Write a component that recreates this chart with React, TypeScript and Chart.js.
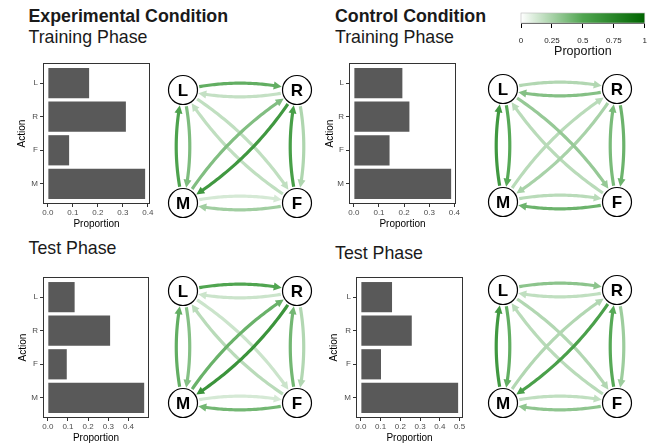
import React, { useEffect, useRef } from 'react';
import { Chart, registerables } from 'chart.js';

Chart.register(...registerables);

// ---------- data ----------
const ACTIONS = ['L', 'R', 'F', 'M'];

const expTrainProps = [0.165, 0.312, 0.085, 0.389];
const ctlTrainProps = [0.193, 0.221, 0.142, 0.387];
const expTestProps = [0.133, 0.309, 0.094, 0.478];
const ctlTestProps = [0.158, 0.258, 0.102, 0.493];

const ticksTo04 = [0, 0.1, 0.2, 0.3, 0.4];
const ticksTo05 = [0, 0.1, 0.2, 0.3, 0.4, 0.5];

const NODE_LABELS = ['L', 'R', 'M', 'F'];
const NODE_X = [0, 1, 0, 1];
const NODE_Y = [1, 1, 0, 0];

const EDGE_FROM = ['L', 'R', 'M', 'L', 'R', 'F', 'M', 'F', 'L', 'F', 'R', 'M'];
const EDGE_TO = ['R', 'L', 'L', 'M', 'F', 'R', 'F', 'M', 'F', 'L', 'M', 'R'];

const expTrainEdges = [0.45, 0.17, 0.52, 0.37, 0.23, 0.55, 0.12, 0.27, 0.18, 0.18, 0.6, 0.36];
const ctlTrainEdges = [0.22, 0.35, 0.6, 0.48, 0.42, 0.38, 0.2, 0.42, 0.3, 0.2, 0.25, 0.2];
const expTestEdges = [0.5, 0.15, 0.45, 0.35, 0.22, 0.4, 0.12, 0.4, 0.15, 0.2, 0.63, 0.43];
const ctlTestEdges = [0.33, 0.18, 0.6, 0.45, 0.28, 0.48, 0.18, 0.32, 0.22, 0.2, 0.54, 0.22];

const LEGEND_TICKS = [0, 0.25, 0.5, 0.75, 1];

// ---------- styling helpers ----------
const FONT = '"Liberation Sans", Arial, Helvetica, sans-serif';
const C0 = [255, 255, 255];
const C1 = [80, 165, 80];
const C2 = [0, 100, 0];
function colorScale(t: number) {
  const [a, b, u] = t <= 0.5 ? [C0, C1, t / 0.5] : [C1, C2, (t - 0.5) / 0.5];
  const c = a.map((l, i) => Math.round(l + (b[i] - l) * u));
  return `rgb(${c[0]},${c[1]},${c[2]})`;
}

function ChartCanvas({ left, top, width, height, makeConfig }: any) {
  const ref = useRef<HTMLCanvasElement>(null);
  useEffect(() => {
    const chart = new Chart(ref.current as HTMLCanvasElement, makeConfig());
    return () => chart.destroy();
  }, []);
  return (
    <canvas
      ref={ref}
      width={width}
      height={height}
      style={{ position: 'absolute', left, top, width, height }}
    />
  );
}

const panelBorder = {
  id: 'panelBorder',
  afterDatasetsDraw(chart: any) {
    const { ctx, chartArea: a } = chart;
    ctx.save();
    ctx.strokeStyle = '#333333';
    ctx.lineWidth = 1;
    ctx.strokeRect(Math.round(a.left) + 0.5, Math.round(a.top) + 0.5, Math.round(a.right - a.left) - 1, Math.round(a.bottom - a.top) - 1);
    ctx.restore();
  },
};

function barConfig(values: number[], ticks: number[], yAxisWidth: number) {
  const max = Math.max(...values);
  return () => ({
    type: 'bar',
    data: {
      datasets: [
        {
          data: values.map((v, i) => ({ x: v, y: i + 1 })),
          backgroundColor: '#595959',
          borderWidth: 0,
          barPercentage: 0.9,
          categoryPercentage: 1,
        },
      ],
    },
    options: {
      indexAxis: 'y',
      animation: false,
      responsive: false,
      maintainAspectRatio: false,
      events: [],
      layout: { padding: { left: 0, top: 8, right: 6, bottom: 0 } },
      plugins: { legend: { display: false }, tooltip: { enabled: false } },
      scales: {
        x: {
          type: 'linear',
          min: -0.05 * max,
          max: 1.05 * max,
          offset: false,
          afterBuildTicks: (s: any) => {
            s.ticks = ticks.map((v) => ({ value: v }));
          },
          afterFit: (s: any) => {
            s.height = 26;
          },
          grid: { offset: false, drawOnChartArea: false, drawTicks: true, tickLength: 3, tickColor: '#333333', lineWidth: 1 },
          border: { display: false },
          ticks: {
            callback: (v: number) => v.toFixed(1),
            font: { family: FONT, size: 8 },
            color: '#4d4d4d',
            padding: 1,
            maxRotation: 0,
            autoSkip: false,
          },
          title: { display: true, text: 'Proportion', font: { family: FONT, size: 10 }, color: '#000', padding: { top: 0, bottom: 0 } },
        },
        y: {
          type: 'linear',
          reverse: true,
          min: 0.4,
          max: 4.6,
          offset: false,
          afterBuildTicks: (s: any) => {
            s.ticks = ACTIONS.map((_, i) => ({ value: i + 1 }));
          },
          afterFit: (s: any) => {
            s.width = yAxisWidth;
          },
          grid: { offset: false, drawOnChartArea: false, drawTicks: true, tickLength: 3, tickColor: '#333333', lineWidth: 1 },
          border: { display: false },
          ticks: {
            callback: (v: number) => ACTIONS[Math.round(v) - 1],
            font: { family: FONT, size: 8 },
            color: '#4d4d4d',
            padding: 2,
            autoSkip: false,
          },
          title: { display: true, text: 'Action', font: { family: FONT, size: 10 }, color: '#000', padding: { top: 0, bottom: 0 } },
        },
      },
    },
    plugins: [panelBorder],
  });
}

function BarPanel({ panel, actionX, values, ticks }: any) {
  const left = actionX - 6;
  const top = panel.t - 8;
  const width = panel.r + 6 - left;
  const height = panel.b + 26 - top;
  return (
    <ChartCanvas
      left={left}
      top={top}
      width={Math.round(width)}
      height={Math.round(height)}
      makeConfig={barConfig(values, ticks, panel.l - left)}
    />
  );
}

function drawEdge(ctx: CanvasRenderingContext2D, ax: number, ay: number, bx: number, by: number, color: string) {
  const R = 15.5;
  const dx = bx - ax;
  const dy = by - ay;
  const d = Math.hypot(dx, dy);
  const nx = dy / d;
  const ny = -dx / d;
  const k = 0.12 * d;
  const cx = (ax + bx) / 2 + nx * k;
  const cy = (ay + by) / 2 + ny * k;
  const P = (t: number) => [
    (1 - t) * (1 - t) * ax + 2 * (1 - t) * t * cx + t * t * bx,
    (1 - t) * (1 - t) * ay + 2 * (1 - t) * t * cy + t * t * by,
  ];
  let t0 = 0;
  while (t0 < 0.5) {
    const p = P(t0);
    if (Math.hypot(p[0] - ax, p[1] - ay) >= R + 1) break;
    t0 += 0.002;
  }
  let t1 = 1;
  while (t1 > 0.5) {
    const p = P(t1);
    if (Math.hypot(p[0] - bx, p[1] - by) >= R) break;
    t1 -= 0.002;
  }
  const tip = P(t1);
  const prev = P(t1 - 0.03);
  let ux = tip[0] - prev[0];
  let uy = tip[1] - prev[1];
  const ul = Math.hypot(ux, uy);
  ux /= ul;
  uy /= ul;
  const alen = 8;
  const aw = 4;
  let tEnd = t1;
  while (tEnd > t0) {
    const p = P(tEnd);
    if (Math.hypot(p[0] - tip[0], p[1] - tip[1]) >= alen * 0.8) break;
    tEnd -= 0.002;
  }
  ctx.save();
  ctx.strokeStyle = color;
  ctx.fillStyle = color;
  ctx.lineWidth = 3.2;
  ctx.lineCap = 'butt';
  ctx.beginPath();
  const N = 40;
  for (let i = 0; i <= N; i++) {
    const t = t0 + ((tEnd - t0) * i) / N;
    const p = P(t);
    if (i === 0) ctx.moveTo(p[0], p[1]);
    else ctx.lineTo(p[0], p[1]);
  }
  ctx.stroke();
  const bxp = tip[0] - ux * alen;
  const byp = tip[1] - uy * alen;
  ctx.beginPath();
  ctx.moveTo(tip[0], tip[1]);
  ctx.lineTo(bxp - uy * aw, byp + ux * aw);
  ctx.lineTo(bxp + uy * aw, byp - ux * aw);
  ctx.closePath();
  ctx.fill();
  ctx.restore();
}

function networkConfig(edgeValues: number[]) {
  return () => ({
    type: 'scatter',
    data: {
      datasets: [
        {
          data: NODE_X.map((x, i) => ({ x, y: NODE_Y[i] })),
          pointRadius: 14.5,
          pointHoverRadius: 14.5,
          pointBackgroundColor: '#ffffff',
          pointBorderColor: '#000000',
          pointBorderWidth: 1.2,
          clip: false,
        },
      ],
    },
    options: {
      animation: false,
      responsive: false,
      maintainAspectRatio: false,
      events: [],
      layout: { padding: 24 },
      plugins: { legend: { display: false }, tooltip: { enabled: false } },
      scales: {
        x: { type: 'linear', display: false, min: 0, max: 1 },
        y: { type: 'linear', display: false, min: 0, max: 1 },
      },
    },
    plugins: [
      {
        id: 'edges',
        beforeDatasetsDraw(chart: any) {
          const { ctx } = chart;
          const xs = chart.scales.x;
          const ys = chart.scales.y;
          const pos = (lab: string) => {
            const i = NODE_LABELS.indexOf(lab);
            return [xs.getPixelForValue(NODE_X[i]), ys.getPixelForValue(NODE_Y[i])];
          };
          const order = edgeValues.map((v, i) => i).sort((a, b) => edgeValues[a] - edgeValues[b]);
          order.forEach((i) => {
            const a = pos(EDGE_FROM[i]);
            const b = pos(EDGE_TO[i]);
            drawEdge(ctx, a[0], a[1], b[0], b[1], colorScale(edgeValues[i]));
          });
        },
        afterDatasetsDraw(chart: any) {
          const { ctx } = chart;
          const xs = chart.scales.x;
          const ys = chart.scales.y;
          ctx.save();
          ctx.fillStyle = '#000';
          ctx.font = `bold 17px ${FONT}`;
          ctx.textAlign = 'center';
          ctx.textBaseline = 'middle';
          NODE_LABELS.forEach((lab, i) => {
            ctx.fillText(lab, xs.getPixelForValue(NODE_X[i]), ys.getPixelForValue(NODE_Y[i]) + 1);
          });
          ctx.restore();
        },
      },
    ],
  });
}

function NetworkPanel({ lx, ly, dx, dy, edges }: any) {
  return (
    <ChartCanvas
      left={lx - 24}
      top={ly - 24}
      width={dx + 48}
      height={dy + 48}
      makeConfig={networkConfig(edges)}
    />
  );
}

function legendConfig() {
  return () => ({
    type: 'scatter',
    data: { datasets: [] },
    options: {
      animation: false,
      responsive: false,
      maintainAspectRatio: false,
      events: [],
      layout: { padding: { left: 16, right: 5, top: 7, bottom: 0 } },
      plugins: { legend: { display: false }, tooltip: { enabled: false } },
      scales: {
        x: {
          type: 'linear',
          min: 0,
          max: 1,
          afterBuildTicks: (s: any) => {
            s.ticks = LEGEND_TICKS.map((v) => ({ value: v }));
          },
          afterFit: (s: any) => {
            s.height = 36;
          },
          grid: { drawOnChartArea: false, drawTicks: true, tickLength: 5, tickColor: '#000', lineWidth: 1 },
          border: { display: true, color: '#555', width: 1 },
          ticks: {
            callback: (v: number) => String(v),
            font: { family: FONT, size: 8 },
            color: '#222',
            padding: 8,
            maxRotation: 0,
            autoSkip: false,
          },
          title: { display: true, text: 'Proportion', font: { family: FONT, size: 12.5 }, color: '#111', padding: { top: 0, bottom: 0 } },
        },
        y: { type: 'linear', display: false, min: 0, max: 1 },
      },
    },
    plugins: [
      {
        id: 'gradientBar',
        beforeDatasetsDraw(chart: any) {
          const { ctx, chartArea: a } = chart;
          const g = ctx.createLinearGradient(a.left, 0, a.right, 0);
          for (let i = 0; i <= 20; i++) g.addColorStop(i / 20, colorScale(i / 20));
          ctx.save();
          ctx.fillStyle = g;
          ctx.fillRect(a.left, a.top, a.right - a.left, a.bottom - a.top);
          ctx.strokeStyle = '#bbbbbb';
          ctx.lineWidth = 0.6;
          ctx.strokeRect(a.left, a.top, a.right - a.left, a.bottom - a.top);
          ctx.restore();
        },
      },
    ],
  });
}

const HEAD = 17.8;
const headStyle = (left: number, top: number, bold: boolean): React.CSSProperties => ({
  position: 'absolute',
  left,
  top,
  fontFamily: FONT,
  fontSize: HEAD,
  fontWeight: bold ? 700 : 400,
  lineHeight: 1,
  whiteSpace: 'nowrap',
  color: '#1a1a1a',
});

export default function App() {
  return (
    <div style={{ position: 'absolute', left: 0, top: 0, width: 656, height: 445, background: '#fff', overflow: 'hidden' }}>
      <div style={headStyle(28.5, 7.8, true)}>Experimental Condition</div>
      <div style={headStyle(28.5, 28.6, false)}>Training Phase</div>
      <div style={headStyle(335, 7.8, true)}>Control Condition</div>
      <div style={headStyle(335, 28.6, false)}>Training Phase</div>
      <div style={headStyle(28.5, 240, false)}>Test Phase</div>
      <div style={headStyle(335, 245, false)}>Test Phase</div>

      <BarPanel panel={{ l: 43, t: 63, r: 150, b: 204 }} actionX={22} values={expTrainProps} ticks={ticksTo04} />
      <BarPanel panel={{ l: 349, t: 63, r: 456, b: 204 }} actionX={330} values={ctlTrainProps} ticks={ticksTo04} />
      <BarPanel panel={{ l: 43, t: 277, r: 149, b: 418 }} actionX={23} values={expTestProps} ticks={ticksTo04} />
      <BarPanel panel={{ l: 356, t: 277, r: 463, b: 418 }} actionX={334} values={ctlTestProps} ticks={ticksTo05} />

      <NetworkPanel lx={182.5} ly={89.5} dx={114} dy={113} edges={expTrainEdges} />
      <NetworkPanel lx={503} ly={88.5} dx={114} dy={113} edges={ctlTrainEdges} />
      <NetworkPanel lx={182.5} ly={290.5} dx={114} dy={112} edges={expTestEdges} />
      <NetworkPanel lx={503} ly={289.5} dx={114} dy={113} edges={ctlTestEdges} />

      <ChartCanvas left={505} top={6} width={150} height={53} makeConfig={legendConfig()} />
    </div>
  );
}
